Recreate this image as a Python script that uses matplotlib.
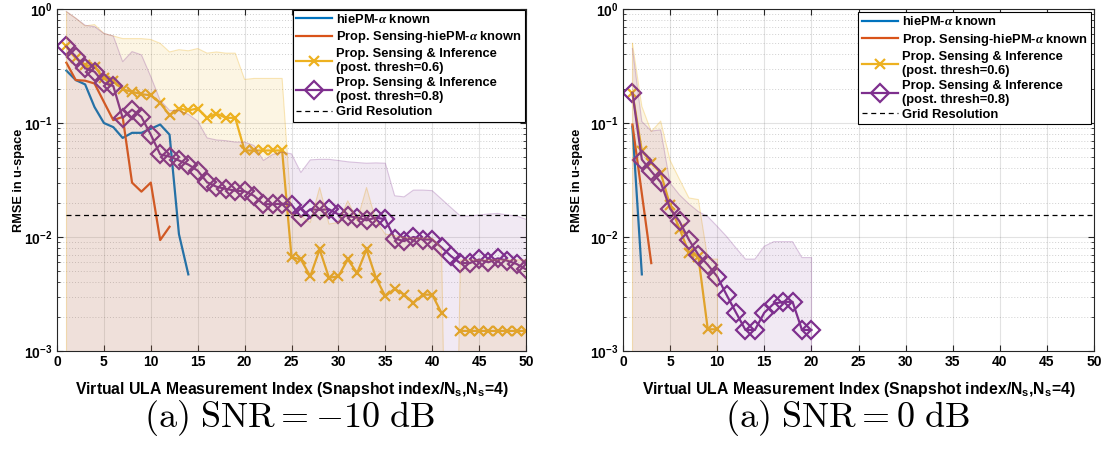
import numpy as np
import matplotlib
matplotlib.use('Agg')
import matplotlib.pyplot as plt
from matplotlib.ticker import LogLocator, FuncFormatter, NullFormatter, MultipleLocator

plt.rcParams['font.family'] = ['Liberation Sans', 'DejaVu Sans']
plt.rcParams['font.weight'] = 'bold'
plt.rcParams['mathtext.fontset'] = 'custom'
plt.rcParams['mathtext.rm'] = 'Liberation Sans:bold'
plt.rcParams['mathtext.bf'] = 'Liberation Sans:bold'
plt.rcParams['mathtext.it'] = 'Liberation Serif:italic'

# ---------------- data: SNR = -10 dB ----------------
xL_blue = [1, 2, 3, 4, 5, 6, 7, 8, 9, 10, 11, 12, 13, 14]
blue_L = [0.288, 0.238, 0.218, 0.138, 0.100, 0.092, 0.074, 0.082, 0.082, 0.089,
          0.097, 0.079, 0.0106, 0.0047]
xL_orange = [1, 2, 3, 4, 5, 6, 7, 8, 9, 10, 11, 12]
orange_L = [0.338, 0.238, 0.235, 0.222, 0.153, 0.106, 0.113, 0.030, 0.025, 0.030,
            0.0094, 0.0123]
xL = list(range(1, 51))
yellow_L = [0.469, 0.37, 0.323, 0.312, 0.246, 0.235, 0.197, 0.188, 0.179, 0.175,
            0.150, 0.117, 0.134, 0.129, 0.134, 0.111, 0.121, 0.111, 0.111, 0.0574,
            0.0574, 0.0574, 0.0574, 0.0574, 0.00667, 0.00635, 0.00453, 0.00779, 0.00438, 0.00453,
            0.00635, 0.00484, 0.00779, 0.00438, 0.00302, 0.00352, 0.00312, 0.00264, 0.00312, 0.00312,
            0.00215, np.nan, 0.0015, 0.0015, 0.0015, 0.0015, 0.0015, 0.0015, 0.0015, 0.0015]
purple_L = [0.469, 0.382, 0.302, 0.282, 0.225, 0.211, 0.111, 0.131, 0.113, 0.079,
            0.053, 0.0508, 0.0469, 0.0432, 0.0382, 0.0302, 0.0276, 0.0264, 0.0255, 0.0252,
            0.023, 0.0194, 0.0194, 0.0196, 0.0192, 0.015, 0.0175, 0.0173, 0.0175, 0.0158,
            0.0153, 0.0148, 0.014, 0.0148, 0.0143, 0.0097, 0.0092, 0.0100, 0.0095, 0.0095,
            0.0081, 0.0068, 0.0059, 0.0059, 0.00635, 0.0060, 0.0065, 0.0062, 0.0058, 0.0052]
yellow_up_L = [0.95, 0.83, 0.71, 0.73, 0.61, 0.58, 0.55, 0.55, 0.55, 0.54,
               0.50, 0.42, 0.44, 0.43, 0.45, 0.41, 0.42, 0.41, 0.41, 0.241,
               0.246, 0.246, 0.246, 0.246, 0.0158, 0.0153, 0.0134, 0.0272, 0.013, 0.0134,
               0.0208, 0.0139, 0.0272, 0.0139, 0.0106, 0.0103, 0.0099, 0.0098, 0.0098, 0.0098,
               0.0080, 1e-7, 0.0063, 0.0063, 0.0063, 0.0063, 0.0063, 0.0063, 0.0063, 0.0063]
purple_up_L = [0.95, 0.83, 0.72, 0.70, 0.61, 0.58, 0.345, 0.423, 0.396, 0.255,
               0.158, 0.129, 0.128, 0.119, 0.104, 0.074, 0.071, 0.070, 0.068, 0.068,
               0.0635, 0.0469, 0.053, 0.0555, 0.0536, 0.0368, 0.0475, 0.048, 0.048, 0.0469,
               0.0457, 0.045, 0.0444, 0.0447, 0.0444, 0.023, 0.0225, 0.0258, 0.0258, 0.0255,
               0.0215, 0.0181, 0.0153, 0.0153, 0.0156, 0.0159, 0.0161, 0.0156, 0.0153, 0.0143]

# ---------------- data: SNR = 0 dB ----------------
xR_blue = [1, 2]
blue_R = [0.093, 0.0047]
xR_orange = [1, 2, 3]
orange_R = [0.097, 0.024, 0.0059]
xR_yellow = list(range(1, 11))
yellow_R = [0.184, 0.057, 0.045, 0.0365, 0.019, 0.0118, 0.0073, 0.0067, 0.00155, 0.00155]
yellow_up_R = [0.50, 0.14, 0.084, 0.104, 0.047, 0.032, 0.022, 0.0213, 0.0064, 0.0064]
xR_purple = list(range(1, 21))
purple_R = [0.184, 0.0478, 0.0377, 0.0302, 0.0177, 0.0137, 0.00946, 0.00698, 0.0057, 0.0045,
            0.0031, 0.00217, 0.00153, 0.00153, 0.00217, 0.0026, 0.0027, 0.0027, 0.00153, 0.00153]
purple_up_R = [0.45, 0.103, 0.085, 0.087, 0.0297, 0.0234, 0.0195, 0.0167, 0.0151, 0.0124,
               0.0101, 0.008, 0.0064, 0.0064, 0.0083, 0.0091, 0.0091, 0.0091, 0.0066, 0.0066]

grid_res = 0.0156
grid_x = [1, 50]
FILL_FLOOR = 1e-6

labels = [r'hiePM-$\alpha$ known',
          r'Prop. Sensing-hiePM-$\alpha$ known',
          'Prop. Sensing & Inference\n(post. thresh=0.6)',
          'Prop. Sensing & Inference\n(post. thresh=0.8)',
          'Grid Resolution']
captions = [r'$\mathrm{(a)\ SNR} = -10\ \mathrm{dB}$', r'$\mathrm{(a)\ SNR} = 0\ \mathrm{dB}$']

C_BLUE = (0.0, 0.447, 0.741)
C_ORANGE = (0.85, 0.325, 0.098)
C_YELLOW = (0.929, 0.694, 0.125)
C_PURPLE = (0.494, 0.184, 0.556)

fig = plt.figure(figsize=(11.01, 4.5), dpi=100)
ax1 = fig.add_axes([57/1101, 1-351/450, 469/1101, 342/450])
ax2 = fig.add_axes([623/1101, 1-351/450, 471/1101, 342/450])


def draw(ax, xb, yb, xo, yo, xy, yy, yyu, xp, yp, ypu, legend_pad, ylab_x):
    ax.set_yscale('log')
    hb, = ax.plot(xb, yb, color=C_BLUE, lw=1.6, zorder=2)
    ho, = ax.plot(xo, yo, color=C_ORANGE, lw=1.6, zorder=2)
    hy, = ax.plot(xy, yy, color=C_YELLOW, lw=1.6, marker='x', ms=7, mew=1.6, zorder=2)
    hp, = ax.plot(xp, yp, color=C_PURPLE, lw=1.6, marker='D', ms=9, mfc='none', mew=1.6, zorder=2)
    ax.fill_between(xy, yyu, FILL_FLOOR, facecolor=C_YELLOW, alpha=0.12,
                    edgecolor='none', zorder=3)
    ax.plot(xy, yyu, color=C_YELLOW, alpha=0.3, lw=0.8, zorder=3)
    ax.plot([xy[0], xy[0]], [FILL_FLOOR, yyu[0]], color=C_YELLOW, alpha=0.3, lw=0.8, zorder=3)
    ax.plot([xy[-1], xy[-1]], [FILL_FLOOR, yyu[-1]], color=C_YELLOW, alpha=0.3, lw=0.8, zorder=3)
    ax.fill_between(xp, ypu, FILL_FLOOR, facecolor=C_PURPLE, alpha=0.10,
                    edgecolor='none', zorder=3)
    ax.plot(xp, ypu, color=C_PURPLE, alpha=0.25, lw=0.8, zorder=3)
    ax.plot([xp[-1], xp[-1]], [FILL_FLOOR, ypu[-1]], color=C_PURPLE, alpha=0.25, lw=0.8, zorder=3)
    hg, = ax.plot(grid_x, [grid_res, grid_res], color='black', lw=0.9, ls=(0, (4, 3)), zorder=4)

    ax.set_xlim(0, 50)
    ax.set_ylim(1e-3, 1)
    ax.xaxis.set_major_locator(MultipleLocator(5))
    ax.yaxis.set_major_locator(LogLocator(base=10, numticks=10))
    ax.yaxis.set_minor_locator(LogLocator(base=10, subs=np.arange(2, 10), numticks=10))
    ax.yaxis.set_major_formatter(FuncFormatter(lambda v, p: r'$\mathbf{10^{%d}}$' % int(round(np.log10(v)))))
    ax.yaxis.set_minor_formatter(NullFormatter())
    ax.grid(True, which='major', color=(0.15, 0.15, 0.15), alpha=0.13, lw=0.8, zorder=0)
    ax.grid(True, which='minor', axis='y', color=(0.15, 0.15, 0.15), alpha=0.22, lw=0.7,
            ls=(0, (1, 2)), zorder=0)
    ax.set_axisbelow(True)
    for s in ax.spines.values():
        s.set_color((0.15, 0.15, 0.15))
        s.set_linewidth(0.8)
    ax.tick_params(which='both', direction='in', top=True, right=True, colors=(0.15, 0.15, 0.15),
                   labelcolor='black', labelsize=10, pad=3)
    ax.tick_params(which='major', length=4)
    ax.tick_params(which='minor', length=2)
    ax.set_xlabel(r'Virtual ULA Measurement Index (Snapshot index/$\mathbf{N_s}$,$\mathbf{N_s}$=4)',
                  fontsize=11.3, fontweight='bold', labelpad=8)
    ax.set_ylabel('RMSE in u-space', fontsize=9.2, fontweight='bold')
    ax.yaxis.set_label_coords(ylab_x, 0.5)
    leg = ax.legend([hb, ho, hy, hp, hg], labels, loc='upper right', fontsize=9.3,
                    frameon=True, fancybox=False, framealpha=1, edgecolor='black',
                    borderaxespad=legend_pad, borderpad=0.25, labelspacing=0.25,
                    handlelength=2.8, handletextpad=0.3)
    leg.get_frame().set_linewidth(0.8)
    leg.set_zorder(10)


draw(ax1, xL_blue, blue_L, xL_orange, orange_L, xL, yellow_L, yellow_up_L,
     xL, purple_L, purple_up_L, 0.05, -32/469)
draw(ax2, xR_blue, blue_R, xR_orange, orange_R, xR_yellow, yellow_R, yellow_up_R,
     xR_purple, purple_R, purple_up_R, 0.25, -40/471)

fig.text(290/1101, 1-418/450, captions[0], fontsize=26, ha='center', va='center',
         math_fontfamily='cm')
fig.text(848/1101, 1-418/450, captions[1], fontsize=26, ha='center', va='center',
         math_fontfamily='cm')

fig.savefig('out.png', dpi=100)
